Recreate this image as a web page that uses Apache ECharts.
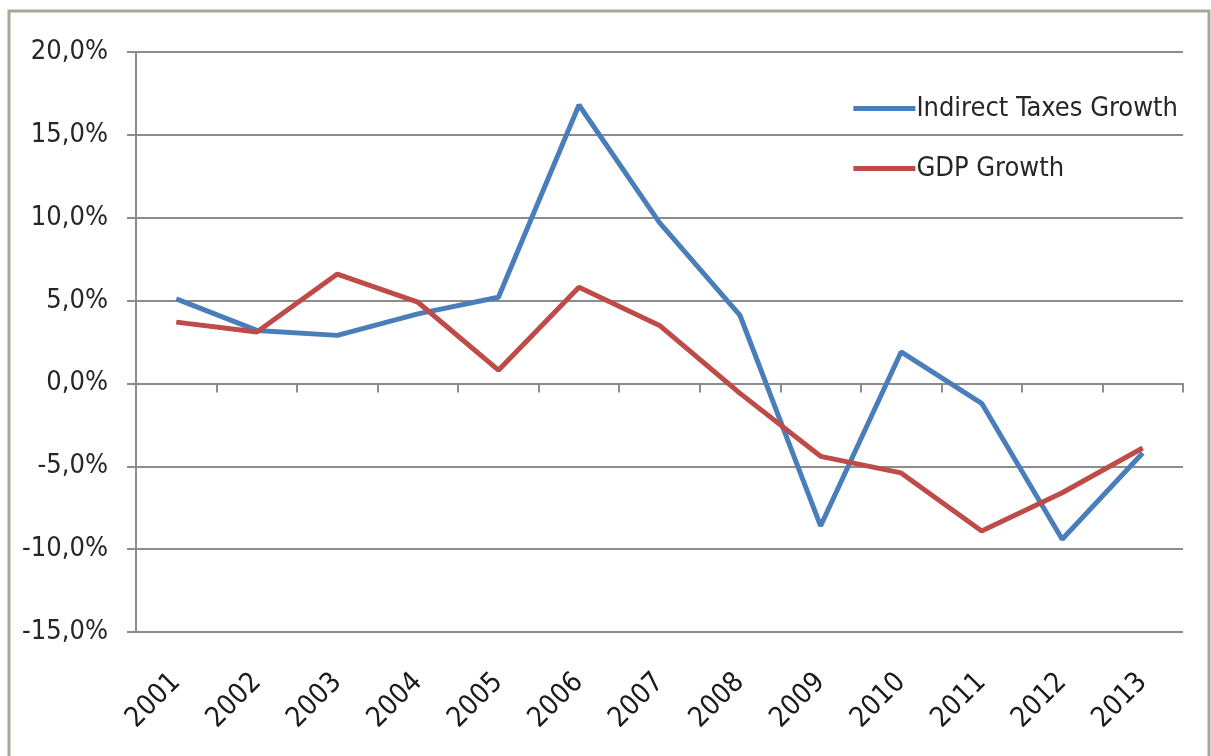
<!DOCTYPE html>
<html>
<head>
<meta charset="utf-8">
<script src="https://cdn.jsdelivr.net/npm/echarts@6/dist/echarts.min.js"></script>
<style>
    html, body { margin: 0; padding: 0; background: #fff; }
    #chart { width: 1211px; height: 756px; }
</style>
</head>
<body>
<div id="chart"></div>
<script>
    // 数据
    var years = ['2001', '2002', '2003', '2004', '2005', '2006', '2007', '2008', '2009', '2010', '2011', '2012', '2013'];
    var indirectTaxes = [5.1, 3.2, 2.9, 4.2, 5.2, 16.8, 9.7, 4.1, -8.6, 1.9, -1.2, -9.4, -4.2];
    var gdpGrowth = [3.7, 3.1, 6.6, 4.9, 0.8, 5.8, 3.5, -0.6, -4.4, -5.4, -8.9, -6.6, -3.9];
    var seriesNames = ['Indirect Taxes Growth', 'GDP Growth'];

    var font = '"Liberation Sans Narrow", "DejaVu Sans Condensed", "Liberation Sans", sans-serif';
    var gridColor = '#8c8c8c';

    var myChart = echarts.init(document.getElementById('chart'));
    var option = {
        animation: false,
        textStyle: { fontFamily: font },
        graphic: [{
            type: 'rect',
            shape: { x: 9, y: 11, width: 1200, height: 760 },
            style: { fill: 'none', stroke: '#a8a898', lineWidth: 3 }
        }],
        legend: {
            orient: 'vertical',
            right: 28,
            top: 90,
            itemWidth: 62,
            itemHeight: 5,
            itemGap: 33,
            icon: 'rect',
            data: seriesNames,
            textStyle: { fontSize: 27, color: '#262626', fontFamily: font, padding: [0, 0, 0, -4] }
        },
        grid: {
            left: 136,
            right: 28,
            top: 52,
            bottom: 124
        },
        xAxis: [{
            // 底部文字
            type: 'category',
            data: years,
            position: 'bottom',
            axisLine: { show: false, onZero: false },
            axisTick: { show: false },
            axisLabel: {
                rotate: 45,
                margin: 46,
                fontSize: 28,
                color: '#1a1a1a',
                interval: 0
            }
        }, {
            // 零线上的坐标轴
            type: 'category',
            data: years,
            position: 'bottom',
            axisLine: { show: true, onZero: true, lineStyle: { color: gridColor, width: 2 } },
            axisTick: { show: true, length: 9, lineStyle: { color: gridColor, width: 2 } },
            axisLabel: { show: false }
        }],
        yAxis: {
            type: 'value',
            min: -15,
            max: 20,
            interval: 5,
            axisLine: { show: true, lineStyle: { color: gridColor, width: 2 } },
            axisTick: { show: true, inside: false, length: 9, lineStyle: { color: gridColor, width: 2 } },
            splitLine: { lineStyle: { color: gridColor, width: 2 } },
            axisLabel: {
                margin: 28,
                fontSize: 27,
                color: '#262626',
                formatter: function (v) { return v.toFixed(1).replace('.', ',') + '%'; }
            }
        },
        series: [{
            name: seriesNames[0],
            type: 'line',
            xAxisIndex: 0,
            data: indirectTaxes,
            symbol: 'none',
            color: '#4a7ebb',
            lineStyle: { width: 5, color: '#4a7ebb' },
            z: 3
        }, {
            name: seriesNames[1],
            type: 'line',
            xAxisIndex: 0,
            data: gdpGrowth,
            symbol: 'none',
            color: '#be4b48',
            lineStyle: { width: 5, color: '#be4b48' },
            z: 4
        }]
    };
    myChart.setOption(option);
</script>
</body>
</html>
